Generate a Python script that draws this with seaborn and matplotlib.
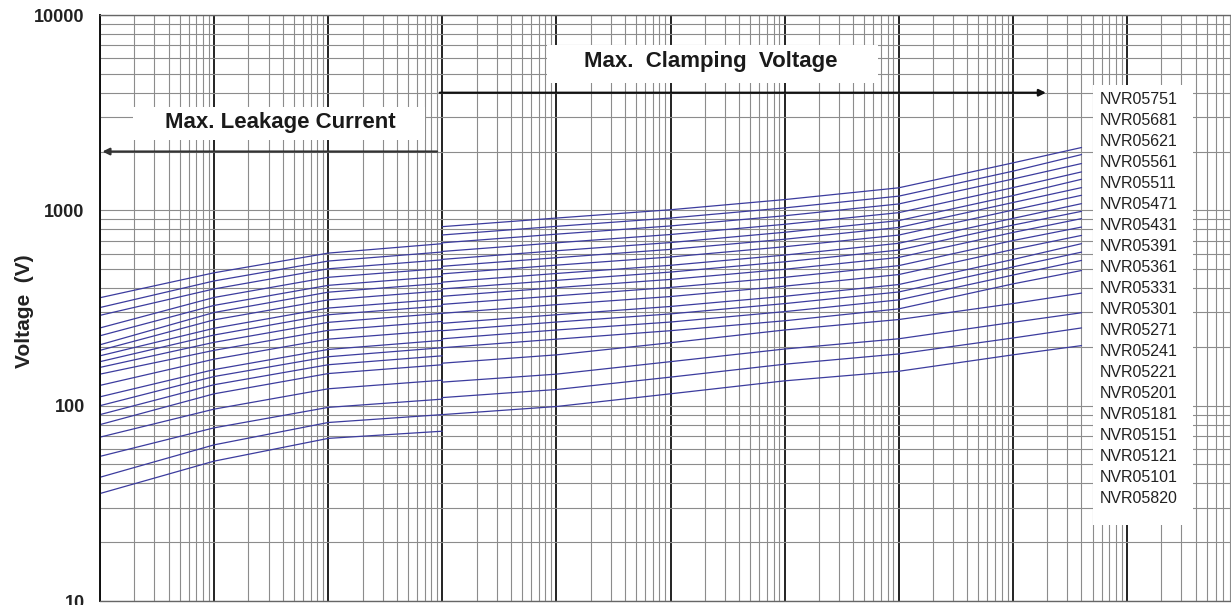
import matplotlib
matplotlib.use("Agg")
import matplotlib.pyplot as plt
import seaborn as sns
import pandas as pd
from matplotlib.ticker import LogLocator, NullFormatter, FixedLocator, FixedFormatter
from matplotlib.patches import Rectangle

# Varistor V-I curves, NVR05 series
models = ["NVR05751", "NVR05681", "NVR05621", "NVR05561", "NVR05511",
          "NVR05471", "NVR05431", "NVR05391", "NVR05361", "NVR05331",
          "NVR05301", "NVR05271", "NVR05241", "NVR05221", "NVR05201",
          "NVR05181", "NVR05151", "NVR05121", "NVR05101", "NVR05820"]

# Max. leakage current curves (A -> V)
leak_current = [1e-6, 1e-5, 1e-4, 1e-3]
leak_1uA = [357, 318, 290, 250, 228, 205, 192, 180, 168, 157, 145, 127, 111, 100, 90, 80, 69, 55, 43, 35.5]
leak_10uA = [479, 435, 396, 358, 326, 300, 275, 249, 230, 211, 192, 173, 153, 141, 128, 115, 96, 77, 63, 52]
leak_100uA = [604, 550, 502, 454, 413, 381, 348, 316, 292, 267, 243, 219, 194, 178, 162, 146, 122, 98, 82, 68]
leak_1mA = [675, 612, 558, 504, 459, 423, 387, 351, 324, 297, 270, 243, 216, 198, 180, 162, 135, 108, 90, 74]

# Max. clamping voltage curves (A -> V)
clamp_current = [1e-3, 1e-2, 1e-1, 1, 10, 100, 400]
clamp_1mA = [825, 748, 682, 616, 561, 517, 473, 429, 396, 363, 330, 297, 264, 242, 220, 198, 165, 132, 110, 90]
clamp_10mA = [913, 828, 755, 682, 621, 572, 524, 475, 438, 402, 365, 329, 292, 268, 244, 219, 182, 145, 121, 99]
clamp_100mA = [1007, 913, 832, 752, 684, 631, 577, 523, 483, 443, 403, 362, 322, 295, 268, 242, 210, 168, 140, 115]
clamp_1A = [1135, 1029, 938, 848, 772, 711, 651, 590, 545, 499, 454, 409, 363, 333, 303, 272, 244, 195, 163, 134]
clamp_10A = [1304, 1182, 1078, 973, 886, 817, 747, 678, 626, 574, 521, 469, 417, 382, 348, 313, 276, 220, 184, 150]
clamp_100A = [1749, 1586, 1446, 1306, 1189, 1096, 1003, 909, 840, 770, 700, 630, 560, 513, 466, 420, 333, 267, 222, 182]
clamp_400A = [2097, 1930, 1736, 1573, 1442, 1307, 1194, 1082, 988, 907, 821, 744, 675, 611, 554, 492, 377, 299, 250, 203]

y_ticks = [10, 100, 1000, 10000]
y_tick_labels = ["10", "100", "1000", "10000"]

# long table: one row per point, 'curve' separates each polyline
rows = []
leak_cols = [leak_1uA, leak_10uA, leak_100uA, leak_1mA]
clamp_cols = [clamp_1mA, clamp_10mA, clamp_100mA, clamp_1A, clamp_10A, clamp_100A, clamp_400A]
for i, m in enumerate(models):
    for cur, col in zip(leak_current, leak_cols):
        rows.append({"curve": m + "_leak", "current": cur, "voltage": col[i]})
    for cur, col in zip(clamp_current, clamp_cols):
        rows.append({"curve": m + "_clamp", "current": cur, "voltage": col[i]})
df = pd.DataFrame(rows)

sns.set_style("white")
plt.rcParams["font.family"] = ["Liberation Sans", "DejaVu Sans"]

W, H = 1231, 605
fig = plt.figure(figsize=(W / 100, H / 100), dpi=100)
# axes runs a bit past the right edge, like the cropped original
ax = fig.add_axes([100 / W, 4 / H, 1141 / W, 586 / H])
ax.set_xscale("log")
ax.set_yscale("log")

sns.lineplot(data=df, x="current", y="voltage", units="curve", estimator=None,
             sort=False, color="#3c3c9e", linewidth=0.9, legend=False, ax=ax)

ax.set_xlim(1e-6, 1e4)
ax.set_ylim(10, 10000)

ax.xaxis.set_major_locator(LogLocator(base=10, numticks=100))
ax.xaxis.set_minor_locator(LogLocator(base=10, subs=range(2, 10), numticks=100))
ax.yaxis.set_major_locator(FixedLocator(y_ticks))
ax.yaxis.set_major_formatter(FixedFormatter(y_tick_labels))
ax.yaxis.set_minor_locator(LogLocator(base=10, subs=range(2, 10), numticks=100))
ax.xaxis.set_major_formatter(NullFormatter())
ax.xaxis.set_minor_formatter(NullFormatter())
ax.yaxis.set_minor_formatter(NullFormatter())

ax.set_axisbelow(True)
ax.grid(which="major", axis="x", color="#111111", linewidth=1.3)
ax.grid(which="minor", axis="x", color="#8c8c8c", linewidth=0.8)
ax.grid(which="both", axis="y", color="#8c8c8c", linewidth=0.8)

ax.tick_params(which="both", length=0)
ax.tick_params(axis="y", pad=11, labelsize=13, labelcolor="#222222")
for t in ax.get_yticklabels():
    t.set_fontweight("bold")

for side in ["top", "bottom"]:
    ax.spines[side].set_color("#666666")
    ax.spines[side].set_linewidth(1.0)
ax.spines["left"].set_color("#111111")
ax.spines["left"].set_linewidth(1.4)

ax.set_xlabel("")
ax.set_ylabel("Voltage  (V)", fontsize=15, fontweight="bold", color="#222222")
ax.yaxis.label.set_va("center")
ax.yaxis.set_label_coords(-0.066, 0.495)

# white boxes that hide the grid behind the annotations
for (x0, x1, y0, y1) in [(0.0289, 0.2848, 0.7867, 0.8430),
                         (0.3918, 0.6819, 0.8840, 0.9488),
                         (0.8703, 0.9579, 0.1297, 0.8805)]:
    ax.add_patch(Rectangle((x0, y0), x1 - x0, y1 - y0, transform=ax.transAxes,
                           facecolor="white", edgecolor="none", zorder=1))

ax.text(0.1578, 0.8174, "Max. Leakage Current", transform=ax.transAxes,
        ha="center", va="center", fontsize=16, fontweight="bold", color="#1a1a1a", zorder=3)
ax.text(0.5355, 0.9198, "Max.  Clamping  Voltage", transform=ax.transAxes,
        ha="center", va="center", fontsize=16, fontweight="bold", color="#1a1a1a", zorder=3)

ax.annotate("", xy=(1.05e-6, 2000), xytext=(9e-4, 2000),
            arrowprops=dict(arrowstyle="-|>", color="#333333", lw=1.6,
                            mutation_scale=10, shrinkA=0, shrinkB=0), zorder=3)
ax.annotate("", xy=(195, 4000), xytext=(9.5e-4, 4000),
            arrowprops=dict(arrowstyle="-|>", color="#111111", lw=1.6,
                            mutation_scale=10, shrinkA=0, shrinkB=0), zorder=3)

# model labels, top to bottom
for i, m in enumerate(models):
    ax.text(0.8764, 0.855 - i * (21 / 586), m, transform=ax.transAxes,
            ha="left", va="center", fontsize=11.5, color="#222222", zorder=3)

fig.savefig("out.png", dpi=100)
